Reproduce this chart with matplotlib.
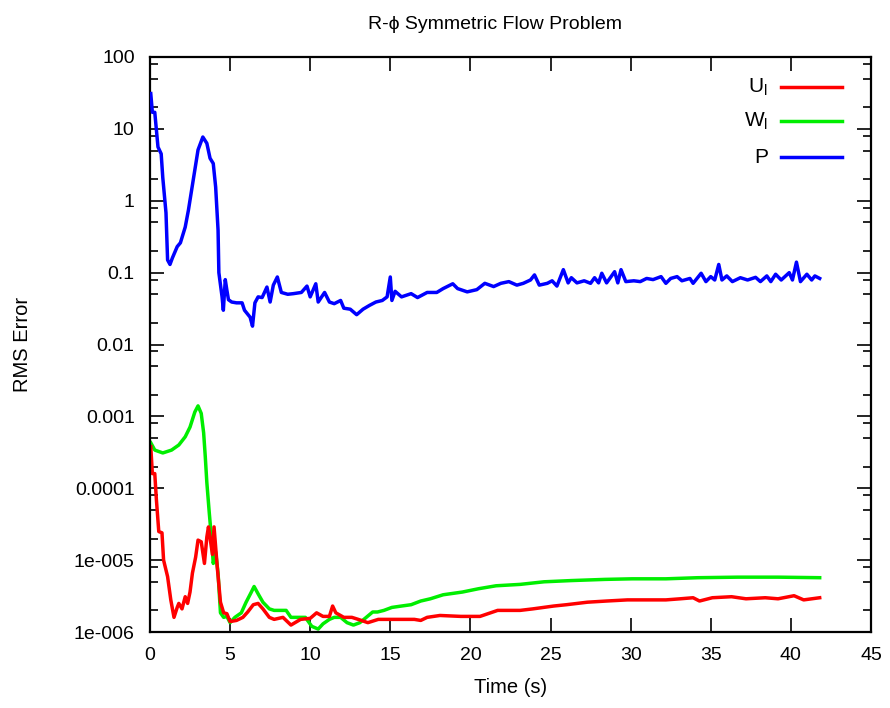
import matplotlib
matplotlib.use("Agg")
import matplotlib.pyplot as plt
from matplotlib.lines import Line2D
from matplotlib.ticker import FixedLocator, FixedFormatter, NullFormatter

plt.rcParams['font.family'] = ['Liberation Sans', 'DejaVu Sans']

title = "R-\u03d5 Symmetric Flow Problem"
x_label = "Time (s)"
y_label = "RMS Error"
series_names = ["U$_\\mathregular{l}$", "W$_\\mathregular{l}$", "P"]
series_colors = ["#ff0000", "#00ee00", "#0000ff"]

x_ticks = [0, 5, 10, 15, 20, 25, 30, 35, 40, 45]
y_ticks = [100, 10, 1, 0.1, 0.01, 0.001, 0.0001, 1e-5, 1e-6]
y_tick_labels = ["100", "10", "1", "0.1", "0.01", "0.001", "0.0001", "1e-005", "1e-006"]

# P (pressure) RMS error
p_t = [0.05, 0.15, 0.3, 0.5, 0.7, 0.8, 1.0, 1.1, 1.25, 1.4, 1.7, 1.9, 2.2, 2.4, 2.7, 3.0,
       3.3, 3.55, 3.75, 3.95, 4.1, 4.25, 4.3, 4.5, 4.58, 4.7, 4.8, 4.9, 5.1, 5.4, 5.75,
       5.9, 6.25, 6.4, 6.55, 6.75, 7.0, 7.3, 7.5, 7.7, 7.95, 8.2, 8.6, 8.95, 9.45, 9.8,
       10.0, 10.35, 10.5, 10.9, 11.2, 11.5, 11.9, 12.1, 12.5, 12.9, 13.3, 13.7, 14.1,
       14.5, 14.8, 15.0, 15.1, 15.3, 15.7, 16.3, 16.7, 17.3, 17.9, 18.3, 18.9, 19.2,
       19.8, 20.4, 20.9, 21.45, 21.9, 22.4, 22.9, 23.3, 23.75, 24.0, 24.3, 24.8, 25.1,
       25.4, 25.8, 26.1, 26.3, 26.65, 27.1, 27.5, 27.75, 28.0, 28.2, 28.5, 29.0, 29.2,
       29.4, 29.7, 30.2, 30.6, 31.0, 31.4, 31.9, 32.2, 32.5, 32.9, 33.2, 33.7, 33.9,
       34.4, 34.7, 35.0, 35.25, 35.5, 35.7, 36.0, 36.35, 36.85, 37.3, 37.8, 38.1, 38.5,
       38.75, 39.05, 39.4, 39.9, 40.1, 40.35, 40.6, 41.0, 41.3, 41.5, 41.8]
p_v = [31.0, 17.0, 17.0, 5.6, 4.5, 2.1, 0.68, 0.15, 0.13, 0.16, 0.23, 0.26, 0.43, 0.74,
       1.95, 5.1, 7.7, 6.3, 3.9, 3.3, 1.55, 0.39, 0.10, 0.046, 0.030, 0.08, 0.057, 0.042,
       0.039, 0.038, 0.038, 0.030, 0.024, 0.018, 0.038, 0.046, 0.045, 0.063, 0.039,
       0.067, 0.087, 0.053, 0.050, 0.051, 0.053, 0.065, 0.046, 0.070, 0.039, 0.053,
       0.039, 0.037, 0.041, 0.032, 0.031, 0.026, 0.031, 0.035, 0.039, 0.041, 0.046,
       0.087, 0.041, 0.055, 0.046, 0.051, 0.045, 0.053, 0.053, 0.060, 0.070, 0.060,
       0.054, 0.058, 0.071, 0.064, 0.071, 0.075, 0.067, 0.071, 0.079, 0.093, 0.067,
       0.071, 0.077, 0.065, 0.110, 0.072, 0.085, 0.072, 0.077, 0.071, 0.085, 0.072,
       0.098, 0.072, 0.103, 0.072, 0.110, 0.075, 0.077, 0.075, 0.083, 0.080, 0.088,
       0.071, 0.083, 0.088, 0.077, 0.083, 0.071, 0.098, 0.075, 0.088, 0.079, 0.130,
       0.079, 0.090, 0.075, 0.085, 0.079, 0.086, 0.075, 0.090, 0.075, 0.095, 0.079,
       0.100, 0.079, 0.140, 0.075, 0.095, 0.079, 0.090, 0.083]

# W_l RMS error
w_t = [0.05, 0.3, 0.8, 1.35, 1.8, 2.2, 2.5, 2.8, 3.0, 3.2, 3.35, 3.45, 3.55, 3.7, 3.85,
       3.95, 4.1, 4.25, 4.4, 4.6, 4.8, 5.0, 5.3, 5.7, 6.0, 6.3, 6.5, 6.75, 7.05, 7.45,
       7.75, 8.1, 8.5, 8.8, 9.2, 9.7, 10.1, 10.5, 10.8, 11.2, 11.5, 11.9, 12.3, 12.7,
       13.1, 13.5, 13.9, 14.2, 14.6, 15.1, 15.7, 16.3, 16.9, 17.5, 18.3, 19.5, 20.5,
       21.6, 23.1, 24.6, 26.3, 28.4, 30.1, 32.2, 34.2, 36.7, 39.2, 41.8]
w_v = [4.3e-4, 3.4e-4, 3.1e-4, 3.4e-4, 4.0e-4, 5.2e-4, 7.1e-4, 1.15e-3, 1.4e-3, 1.1e-3,
       5.9e-4, 2.8e-4, 1.2e-4, 4.6e-5, 1.9e-5, 9e-6, 1.3e-5, 6.6e-6, 1.85e-6, 1.6e-6,
       1.65e-6, 1.35e-6, 1.6e-6, 1.85e-6, 2.6e-6, 3.5e-6, 4.3e-6, 3.4e-6, 2.6e-6, 2.1e-6,
       2.0e-6, 2.0e-6, 2.0e-6, 1.6e-6, 1.6e-6, 1.6e-6, 1.2e-6, 1.1e-6, 1.3e-6, 1.5e-6,
       1.6e-6, 1.6e-6, 1.35e-6, 1.25e-6, 1.35e-6, 1.6e-6, 1.9e-6, 1.9e-6, 2.0e-6,
       2.2e-6, 2.3e-6, 2.4e-6, 2.7e-6, 2.9e-6, 3.3e-6, 3.6e-6, 4.0e-6, 4.4e-6, 4.6e-6,
       5.0e-6, 5.2e-6, 5.4e-6, 5.5e-6, 5.5e-6, 5.7e-6, 5.8e-6, 5.8e-6, 5.7e-6]

# U_l RMS error
u_t = [0.05, 0.15, 0.3, 0.4, 0.55, 0.75, 0.85, 1.1, 1.3, 1.5, 1.7, 1.8, 2.0, 2.2, 2.35,
       2.5, 2.65, 2.85, 3.0, 3.2, 3.4, 3.55, 3.65, 3.9, 4.0, 4.2, 4.4, 4.6, 4.8, 5.0,
       5.4, 5.8, 6.1, 6.45, 6.75, 7.05, 7.45, 7.75, 8.3, 8.8, 9.4, 10.0, 10.4, 10.8,
       11.2, 11.4, 11.6, 12.1, 12.6, 13.0, 13.6, 14.25, 14.9, 15.6, 16.5, 16.9, 17.3,
       18.1, 19.4, 20.6, 21.7, 23.1, 23.9, 25.2, 26.0, 27.3, 28.5, 29.8, 31.0, 32.2,
       33.1, 33.9, 34.3, 35.1, 36.3, 37.2, 38.4, 39.2, 40.2, 40.8, 41.8]
u_v = [3.8e-4, 1.6e-4, 1.6e-4, 7e-5, 2.5e-5, 2.4e-5, 1.0e-5, 5.9e-6, 2.8e-6, 1.6e-6,
       2.2e-6, 2.5e-6, 2.1e-6, 3.1e-6, 2.5e-6, 3.6e-6, 6.6e-6, 1.1e-5, 1.9e-5, 1.8e-5,
       9e-6, 2.1e-5, 2.9e-5, 1.2e-5, 2.9e-5, 8e-6, 2.6e-6, 1.85e-6, 1.8e-6, 1.4e-6,
       1.45e-6, 1.6e-6, 1.9e-6, 2.4e-6, 2.5e-6, 2.1e-6, 1.6e-6, 1.5e-6, 1.6e-6, 1.25e-6,
       1.5e-6, 1.55e-6, 1.85e-6, 1.65e-6, 1.65e-6, 2.3e-6, 1.85e-6, 1.6e-6, 1.6e-6,
       1.5e-6, 1.35e-6, 1.5e-6, 1.5e-6, 1.5e-6, 1.5e-6, 1.45e-6, 1.6e-6, 1.7e-6,
       1.65e-6, 1.65e-6, 2.0e-6, 2.0e-6, 2.1e-6, 2.3e-6, 2.4e-6, 2.6e-6, 2.7e-6, 2.8e-6,
       2.8e-6, 2.8e-6, 2.9e-6, 3.0e-6, 2.7e-6, 3.0e-6, 3.1e-6, 2.9e-6, 3.0e-6, 2.9e-6,
       3.2e-6, 2.8e-6, 3.0e-6]

fig = plt.figure(figsize=(8.9, 7.08), dpi=100)
ax = fig.add_axes([0.1685, 0.1073, 0.8101, 0.8122])

lw = 2.5
ax.plot(p_t, p_v, color=series_colors[2], lw=lw, zorder=3)
ax.plot(w_t, w_v, color=series_colors[1], lw=lw, zorder=2)
ax.plot(u_t, u_v, color=series_colors[0], lw=lw, zorder=2)

ax.set_yscale('log')
ax.set_xlim(0, 45)
ax.set_ylim(1e-6, 100)

ax.xaxis.set_major_locator(FixedLocator(x_ticks))
ax.set_xticklabels([str(v) for v in x_ticks])
ax.yaxis.set_major_locator(FixedLocator(y_ticks))
ax.yaxis.set_major_formatter(FixedFormatter(y_tick_labels))
ax.yaxis.set_minor_locator(matplotlib.ticker.LogLocator(base=10, subs=[2, 5, 8]))
ax.yaxis.set_minor_formatter(NullFormatter())

fs = 14
ax.tick_params(which='both', direction='in', top=True, right=True, labelsize=fs,
               width=1.2, colors='black')
ax.tick_params(axis='y', which='major', length=10, pad=11)
ax.tick_params(axis='x', which='major', length=10, pad=11)
ax.tick_params(which='minor', length=5.5)
for s in ax.spines.values():
    s.set_linewidth(1.6)

ax.set_title(title, fontsize=fs, pad=20, x=0.479)
ax.set_xlabel(x_label, fontsize=fs + 0.5, labelpad=10)
ax.set_ylabel(y_label, fontsize=fs + 0.5, labelpad=30)

# legend (gnuplot style: right-aligned text, sample line to the right)
leg_y = [0.948, 0.888, 0.826]
for name, col, yy in zip(series_names, series_colors, leg_y):
    ax.text(0.857, yy, name, transform=ax.transAxes, ha='right', va='center', fontsize=fs + 1)
    ax.add_line(Line2D([0.875, 0.96], [yy, yy], transform=ax.transAxes, color=col, lw=lw))

fig.savefig("out.png", dpi=100)
